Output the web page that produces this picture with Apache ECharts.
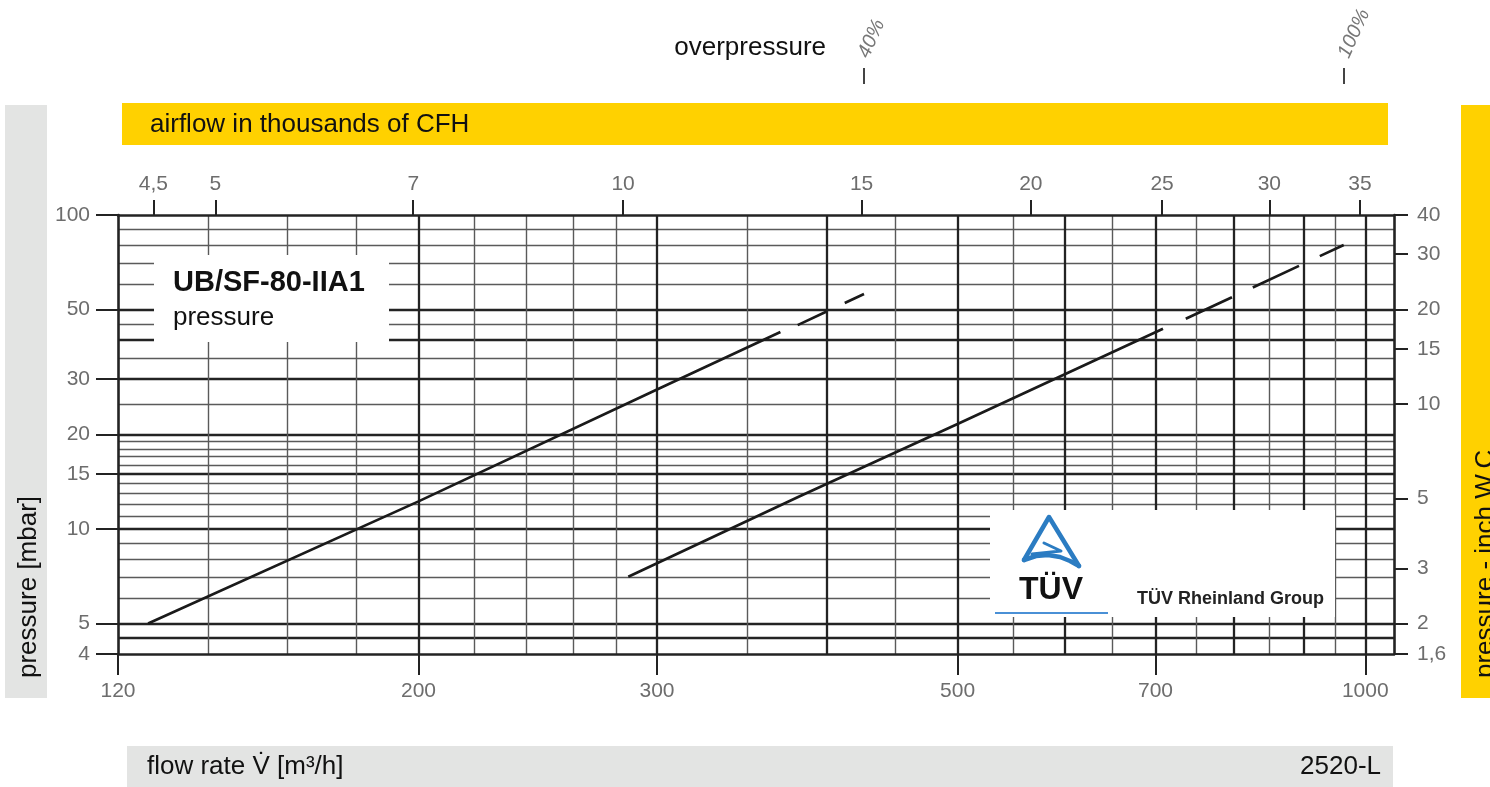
<!DOCTYPE html>
<html>
<head>
<meta charset="utf-8">
<script src="https://cdn.jsdelivr.net/npm/echarts@6/dist/echarts.min.js"></script>
<style>
html,body{margin:0;padding:0;background:#ffffff;}
#chart{width:1490px;height:787px;}
</style>
</head>
<body>
<div id="chart"></div>
<script>
// ---------------- data ----------------
const flowRange = [120, 1050];                 // m3/h, bottom axis extent
const pressureRange = [4, 100];                // mbar, left axis extent
const inchRange = [1.6, 40];                   // inch W.C., right axis extent
const flowLabelTicks = [120, 200, 300, 500, 700, 1000];
const flowMajorGrid = [200, 300, 400, 500, 600, 700, 800, 900, 1000];
const flowMinorGrid = [140, 160, 180, 220, 240, 260, 280, 350, 450, 550, 650, 750, 850, 950];
const pressureLabelTicks = [4, 5, 10, 15, 20, 30, 50, 100];
const pressureMajorGrid = [4.5, 5, 10, 15, 20, 30, 40, 50];
const pressureMinorGrid = [6, 7, 8, 9, 11, 12, 13, 14, 16, 17, 18, 19, 25, 35, 45, 60, 70, 80, 90];
const inchTicks = [1.6, 2, 3, 5, 10, 15, 20, 30, 40];
const cfhTicks = [4.5, 5, 7, 10, 15, 20, 25, 30, 35];   // thousands of CFH
const CFH_PER_M3H = 0.0353147;                           // thousands CFH per m3/h
const overpressureFlows = [426, 964];
const overpressureLabels = ['40%', '100%'];

const curve1SolidFlow = [126.3, 200, 300, 370];
const curve1SolidPressure = [5.0, 12.25, 27.8, 42.4];
const curve1DashFlow = [381, 426.5];
const curve1DashPressure = [44.6, 56.0];
const curve2SolidFlow = [285.7, 382, 500, 709];
const curve2SolidPressure = [7.05, 12.7, 21.6, 43.4];
const curve2DashFlow = [737, 964];
const curve2DashPressure = [46.7, 80.3];

// ---------------- helpers ----------------
const L = Math.log10;
const logs = a => a.map(v => L(v));
const FONT = '"Liberation Sans", Arial, Helvetica, sans-serif';
const TICK_TXT = '#6d6d6d';
const DARK = '#232323';
const MINOR = '#5a5a5a';
const YELLOW = '#FFD100';
const GREY = '#E3E4E3';

function nearestLabel(v, arr) {
  const raw = Math.pow(10, v);
  let best = arr[0];
  for (const a of arr) if (Math.abs(a - raw) < Math.abs(best - raw)) best = a;
  return String(best).replace('.', ',');
}

const gridX = (vals, style) => ({
  type: 'value', gridIndex: 0, position: 'bottom',
  min: L(flowRange[0]), max: L(flowRange[1]),
  axisLine: { show: false },
  axisTick: { show: false, customValues: logs(vals) },
  axisLabel: { show: false },
  splitLine: { show: true, customValues: logs(vals), lineStyle: style }
});
const gridY = (vals, style) => ({
  type: 'value', gridIndex: 0, position: 'left',
  min: L(pressureRange[0]), max: L(pressureRange[1]),
  axisLine: { show: false },
  axisTick: { show: false, customValues: logs(vals) },
  axisLabel: { show: false },
  splitLine: { show: true, customValues: logs(vals), lineStyle: style }
});

const majorStyle = { color: DARK, width: 2.3 };
const minorStyle = { color: MINOR, width: 1.4 };

const lineSeries = (xs, ys, dash) => ({
  type: 'line', xAxisIndex: 0, yAxisIndex: 0,
  data: xs.map((x, i) => [L(x), L(ys[i])]),
  symbol: 'none', showSymbol: false, silent: true, z: 5,
  lineStyle: { color: '#1a1a1a', width: 2.7, type: dash || 'solid' }
});

const labelStyle = { color: TICK_TXT, fontSize: 21, fontFamily: FONT };

const txt = (x, y, text, font, align, extra, fill) => Object.assign({
  type: 'text', z: 11, x: x, y: y,
  style: { text: text, fill: fill || '#111', font: font, align: align, verticalAlign: 'middle',
           textAlign: align, textVerticalAlign: 'middle' }
}, extra || {});

const option = {
  animation: false,
  backgroundColor: '#ffffff',
  textStyle: { fontFamily: FONT },
  grid: { left: 118, top: 215, width: 1276, height: 439, containLabel: false },
  xAxis: [
    { // bottom labelled axis (series axis)
      type: 'value', gridIndex: 0, position: 'bottom',
      min: L(flowRange[0]), max: L(flowRange[1]),
      axisLine: { show: true, lineStyle: { color: DARK, width: 2.6 } },
      axisTick: { show: true, customValues: logs(flowLabelTicks), length: 21, inside: false, lineStyle: { color: DARK, width: 2 } },
      axisLabel: Object.assign({ show: true, customValues: logs(flowLabelTicks), margin: 27,
        formatter: v => nearestLabel(v, flowLabelTicks) }, labelStyle),
      splitLine: { show: false }
    },
    gridX(flowMajorGrid, majorStyle),
    gridX(flowMinorGrid, minorStyle),
    { // top axis: thousands of CFH
      type: 'value', gridIndex: 0, position: 'top',
      min: L(flowRange[0] * CFH_PER_M3H), max: L(flowRange[1] * CFH_PER_M3H),
      axisLine: { show: true, lineStyle: { color: DARK, width: 2.6 } },
      axisTick: { show: true, customValues: logs(cfhTicks), length: 15, lineStyle: { color: DARK, width: 2 } },
      axisLabel: Object.assign({ show: true, customValues: logs(cfhTicks), margin: 20,
        formatter: v => nearestLabel(v, cfhTicks) }, labelStyle),
      splitLine: { show: false }
    },
    { // overpressure marks
      type: 'value', gridIndex: 0, position: 'top', offset: 131,
      min: L(flowRange[0]), max: L(flowRange[1]),
      axisLine: { show: false },
      axisTick: { show: true, customValues: logs(overpressureFlows), length: 16, lineStyle: { color: '#444', width: 2 } },
      axisLabel: { show: true, customValues: logs(overpressureFlows), margin: 27, rotate: -66,
        color: '#777', fontSize: 20, fontStyle: 'italic', fontFamily: FONT,
        formatter: v => {
          const raw = Math.pow(10, v);
          let bi = 0;
          overpressureFlows.forEach((f, i) => { if (Math.abs(f - raw) < Math.abs(overpressureFlows[bi] - raw)) bi = i; });
          return overpressureLabels[bi];
        } },
      splitLine: { show: false }
    }
  ],
  yAxis: [
    { // left labelled axis (series axis)
      type: 'value', gridIndex: 0, position: 'left',
      min: L(pressureRange[0]), max: L(pressureRange[1]),
      axisLine: { show: true, lineStyle: { color: DARK, width: 2.6 } },
      axisTick: { show: true, customValues: logs(pressureLabelTicks), length: 22, lineStyle: { color: DARK, width: 2 } },
      axisLabel: Object.assign({ show: true, customValues: logs(pressureLabelTicks), margin: 28,
        formatter: v => nearestLabel(v, pressureLabelTicks) }, labelStyle),
      splitLine: { show: false }
    },
    gridY(pressureMajorGrid, majorStyle),
    gridY(pressureMinorGrid, minorStyle),
    { // right axis: inch W.C.
      type: 'value', gridIndex: 0, position: 'right',
      min: L(inchRange[0]), max: L(inchRange[1]),
      axisLine: { show: true, lineStyle: { color: DARK, width: 2.6 } },
      axisTick: { show: true, customValues: logs(inchTicks), length: 14, lineStyle: { color: DARK, width: 2 } },
      axisLabel: Object.assign({ show: true, customValues: logs(inchTicks), margin: 23,
        formatter: v => nearestLabel(v, inchTicks) }, labelStyle),
      splitLine: { show: false }
    }
  ],
  series: [
    lineSeries(curve1SolidFlow, curve1SolidPressure),
    lineSeries(curve1DashFlow, curve1DashPressure, [32, 20]),
    lineSeries(curve2SolidFlow, curve2SolidPressure),
    lineSeries(curve2DashFlow, curve2DashPressure, [51, 23])
  ],
  graphic: { elements: [
    // top yellow bar
    { type: 'rect', z: 10, shape: { x: 122, y: 103, width: 1266, height: 42 }, style: { fill: YELLOW } },
    txt(150, 125, 'airflow in thousands of CFH', '26px ' + FONT, 'left'),
    txt(826, 48, 'overpressure', '26px ' + FONT, 'right'),
    // left grey bar
    { type: 'rect', z: 10, shape: { x: 5, y: 105, width: 42, height: 593 }, style: { fill: GREY } },
    txt(29, 678, 'pressure [mbar]', '26px ' + FONT, 'left', { rotation: Math.PI / 2 }),
    // right yellow bar
    { type: 'rect', z: 10, shape: { x: 1461, y: 105, width: 40, height: 593 }, style: { fill: YELLOW } },
    txt(1486, 678, 'pressure - inch W.C.', '26px ' + FONT, 'left', { rotation: Math.PI / 2 }),
    // bottom grey bar
    { type: 'rect', z: 10, shape: { x: 127, y: 746, width: 1266, height: 41 }, style: { fill: GREY } },
    txt(147, 767, 'flow rate V\u0307 [m\u00B3/h]', '26px ' + FONT, 'left'),
    txt(1381, 767, '2520-L', '26px ' + FONT, 'right'),
    // product label box
    { type: 'rect', z: 10, shape: { x: 154, y: 255, width: 235, height: 87 }, style: { fill: '#ffffff' } },
    txt(173, 283, 'UB/SF-80-IIA1', 'bold 29px ' + FONT, 'left'),
    txt(173, 318, 'pressure', '26px ' + FONT, 'left'),
    // TUV box
    { type: 'rect', z: 10, shape: { x: 990, y: 510, width: 345, height: 107 }, style: { fill: '#ffffff' } },
    { type: 'polyline', z: 11, shape: { points: [[1024, 560], [1049, 517], [1079, 566]] },
      style: { fill: null, stroke: '#2b7cc2', lineWidth: 4.5, lineCap: 'round', lineJoin: 'round' } },
    { type: 'polyline', z: 11, shape: { points: [[1024, 560], [1036, 556], [1048, 555], [1060, 557], [1070, 561], [1079, 566]] },
      style: { fill: null, stroke: '#2b7cc2', lineWidth: 4.5, lineCap: 'round', lineJoin: 'round' } },
    { type: 'polyline', z: 11, shape: { points: [[1032, 554], [1061, 551], [1044, 543]] },
      style: { fill: null, stroke: '#2b7cc2', lineWidth: 3, lineCap: 'round', lineJoin: 'round' } },
    txt(1051, 590, 'T\u00DCV', 'bold 32px ' + FONT, 'center'),
    { type: 'line', z: 11, shape: { x1: 995, y1: 613, x2: 1108, y2: 613 }, style: { stroke: '#4a90d6', lineWidth: 2 } },
    txt(1137, 599, 'T\u00DCV Rheinland Group', 'bold 18px ' + FONT, 'left', {}, '#222')
  ] }
};

const chart = echarts.init(document.getElementById('chart'), null, { renderer: 'canvas', width: 1490, height: 787 });
chart.setOption(option);
</script>
</body>
</html>
